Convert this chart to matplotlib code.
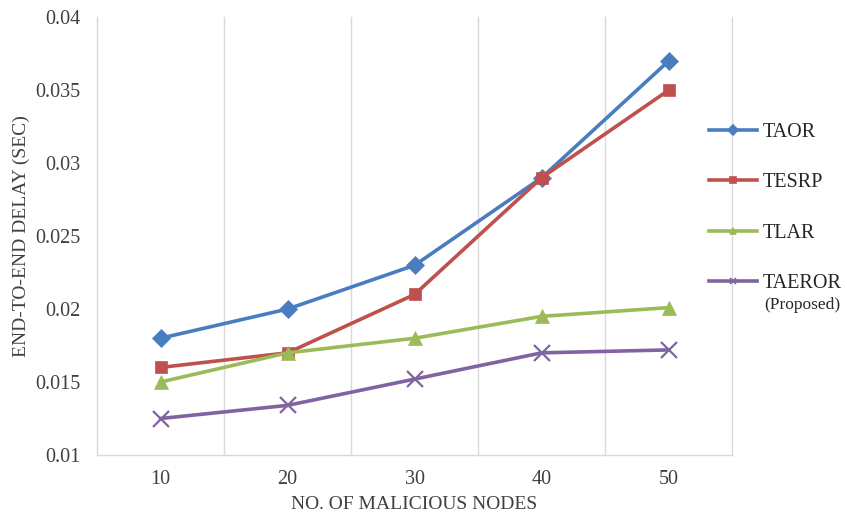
import matplotlib
matplotlib.use("Agg")
import matplotlib.pyplot as plt
from matplotlib.lines import Line2D
import numpy as np

plt.rcParams['font.family'] = ['Liberation Serif', 'DejaVu Serif']

categories = ["10", "20", "30", "40", "50"]
taor = [0.018, 0.020, 0.023, 0.029, 0.037]
tesrp = [0.016, 0.017, 0.021, 0.029, 0.035]
tlar = [0.015, 0.017, 0.018, 0.0195, 0.0201]
taeror = [0.0125, 0.0134, 0.0152, 0.017, 0.0172]

series = [
    ("TAOR", taor, "#4A7DC0", "D", 9),
    ("TESRP", tesrp, "#C0504D", "s", 9),
    ("TLAR", tlar, "#9BBB59", "^", 10),
    ("TAEROR", taeror, "#8064A2", "x", 11),
]

fig = plt.figure(figsize=(8.47, 5.2), dpi=100)
ax = fig.add_axes([0.1145, 0.125, 0.750, 0.842])

x = np.arange(len(categories))
for name, vals, color, marker, ms in series:
    ax.plot(x, vals, color=color, linewidth=2.6, marker=marker, markersize=ms,
            markeredgewidth=1.6 if marker == "x" else 0.5, markeredgecolor=color,
            label=name, zorder=3)

ax.set_xlim(-0.5, len(categories) - 0.5)
ax.set_ylim(0.01, 0.04)
ax.set_yticks([0.01, 0.015, 0.02, 0.025, 0.03, 0.035, 0.04])
ax.set_yticklabels(["0.01", "0.015", "0.02", "0.025", "0.03", "0.035", "0.04"])
ax.set_xticks(x)
ax.set_xticklabels(categories)

# category boundary gridlines, including the right edge of the plot area
for b in np.arange(0.5, len(categories) + 0.5, 1.0):
    ax.axvline(b, color="#D9D9D9", linewidth=1.0, zorder=0, clip_on=False)

for s in ["top", "right"]:
    ax.spines[s].set_visible(False)
for s in ["left", "bottom"]:
    ax.spines[s].set_color("#D9D9D9")
    ax.spines[s].set_linewidth(1.0)

ax.tick_params(axis="both", length=0, labelsize=14.5, colors="#404040")
ax.tick_params(axis="x", pad=11)
ax.tick_params(axis="y", pad=12)

ax.set_xlabel("NO. OF MALICIOUS NODES", fontsize=14, color="#404040", labelpad=5)
ax.set_ylabel("END-TO-END DELAY (SEC)", fontsize=14, color="#404040", labelpad=4)

handles = [Line2D([0], [0], color=c, linewidth=2.6, marker=m, markersize=5,
                  markeredgecolor=c, markeredgewidth=1.2)
           for _, _, c, m, _ in series]
leg = fig.legend(handles, [s[0] for s in series], loc="upper left",
                 bbox_to_anchor=(0.837, 0.764), frameon=False, fontsize=14.5,
                 handlelength=2.4, handletextpad=0.25, labelspacing=1.56,
                 borderpad=0, borderaxespad=0)
for t in leg.get_texts():
    t.set_color("#262626")
fig.text(0.902, 0.4135, "(Proposed)", fontsize=12.5, color="#262626", va="center")

fig.savefig("out.png", dpi=100, facecolor="white")
